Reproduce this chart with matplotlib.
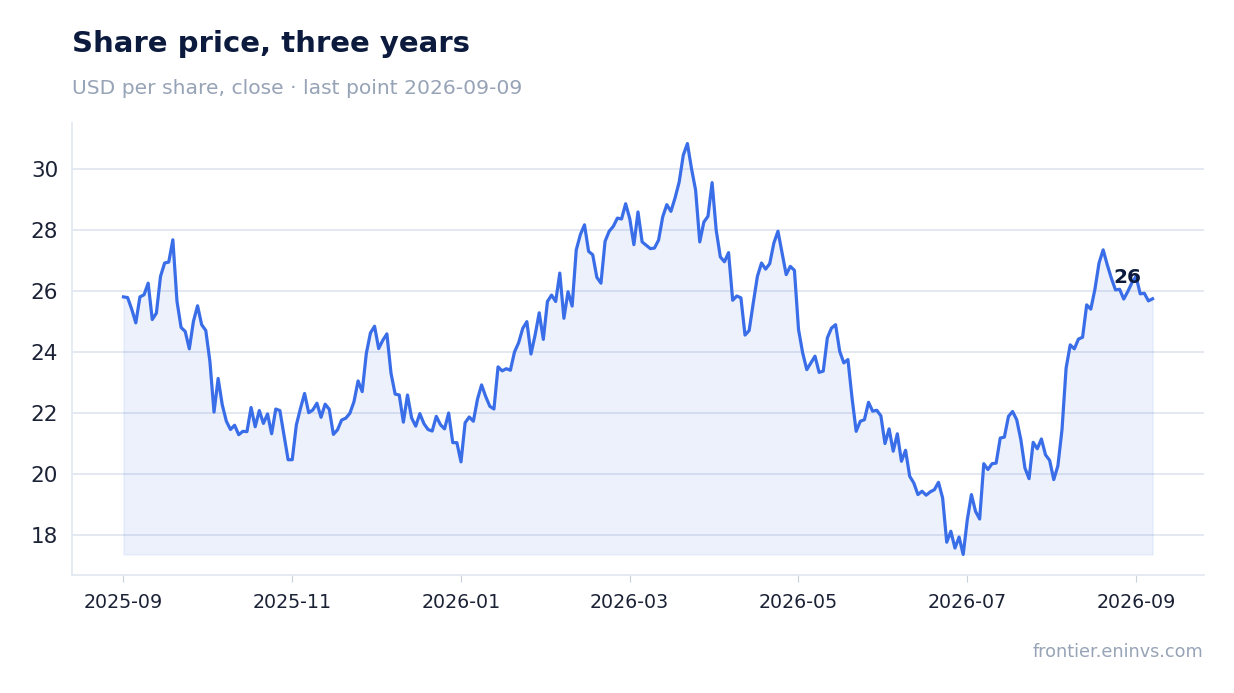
import pandas as pd
import matplotlib
matplotlib.use("Agg")
from matplotlib import pyplot as plt

# closing prices (first point 2025-09-01)
close = [
    25.80, 25.78, 25.40, 24.95, 25.80, 25.87, 26.25, 25.06, 25.27, 26.47,
    26.91, 26.94, 27.67, 25.66, 24.80, 24.67, 24.10, 25.00, 25.51, 24.89,
    24.70, 23.69, 22.03, 23.13, 22.27, 21.73, 21.46, 21.60, 21.29, 21.40,
    21.39, 22.18, 21.55, 22.08, 21.66, 21.97, 21.32, 22.13, 22.08, 21.28,
    20.47, 20.47, 21.61, 22.15, 22.64, 22.01, 22.10, 22.32, 21.86, 22.29,
    22.12, 21.30, 21.45, 21.77, 21.83, 21.99, 22.37, 23.05, 22.70, 23.95,
    24.62, 24.84, 24.11, 24.38, 24.59, 23.30, 22.62, 22.59, 21.70, 22.59,
    21.84, 21.57, 21.98, 21.65, 21.46, 21.41, 21.89, 21.62, 21.48, 22.00,
    21.03, 21.03, 20.40, 21.68, 21.87, 21.73, 22.45, 22.92, 22.54, 22.22,
    22.13, 23.51, 23.38, 23.45, 23.40, 24.00, 24.30, 24.77, 24.99, 23.93,
    24.55, 25.28, 24.41, 25.65, 25.86, 25.65, 26.58, 25.10, 25.97, 25.50,
    27.34, 27.84, 28.16, 27.29, 27.18, 26.44, 26.25, 27.62, 27.95, 28.11,
    28.38, 28.35, 28.85, 28.36, 27.51, 28.58, 27.60, 27.49, 27.38, 27.40,
    27.66, 28.42, 28.82, 28.60, 29.04, 29.56, 30.44, 30.82, 30.00, 29.29,
    27.60, 28.25, 28.44, 29.54, 27.98, 27.11, 26.95, 27.25, 25.69, 25.83,
    25.77, 24.55, 24.70, 25.60, 26.47, 26.91, 26.71, 26.89, 27.56, 27.95,
    27.24, 26.53, 26.80, 26.67, 24.73, 23.97, 23.42, 23.64, 23.86, 23.33,
    23.37, 24.46, 24.78, 24.89, 24.02, 23.64, 23.75, 22.49, 21.40, 21.73,
    21.78, 22.35, 22.06, 22.09, 21.91, 21.00, 21.48, 20.75, 21.32, 20.42,
    20.78, 19.93, 19.71, 19.33, 19.44, 19.31, 19.42, 19.49, 19.73, 19.22,
    17.77, 18.13, 17.58, 17.94, 17.37, 18.51, 19.33, 18.78, 18.53, 20.34,
    20.15, 20.34, 20.36, 21.18, 21.21, 21.89, 22.05, 21.78, 21.13, 20.20,
    19.85, 21.04, 20.83, 21.15, 20.63, 20.45, 19.82, 20.27, 21.45, 23.47,
    24.23, 24.10, 24.42, 24.48, 25.54, 25.40, 26.05, 26.91, 27.34, 26.85,
    26.41, 26.03, 26.05, 25.73, 25.98, 26.27, 26.47, 25.90, 25.92, 25.67,
    25.74,
]
dates = pd.date_range("2025-09-01", "2026-09-07", periods=len(close))

x_labels = ["2025-09", "2025-11", "2026-01", "2026-03", "2026-05", "2026-07", "2026-09"]
y_ticks = [18, 20, 22, 24, 26, 28, 30]

title = "Share price, three years"
subtitle = "USD per share, close \u00b7 last point 2026-09-09"
source = "frontier.eninvs.com"

line_col = "#3a6ee8"
navy = "#0b1a3d"
grey = "#97a3b6"

fig = plt.figure(figsize=(12.34, 6.93), dpi=100)
ax = fig.add_axes([72 / 1234, 1 - 575 / 693, (1204 - 72) / 1234, (575 - 123) / 693])

ax.fill_between(dates, close, min(close), color=line_col, alpha=0.09)
ax.plot(dates, close, color=line_col, linewidth=2.3)

# label for the last value
ax.annotate(f"{close[-1]:.0f}", xy=(dates[-1], close[-1]), xytext=(-25, 21),
            textcoords="offset pixels", ha="center", va="center",
            fontsize=14.5, fontweight="bold", color=navy)

# ticks sit evenly, one every sixth of a year
step = pd.Timedelta(days=365 / 6)
ax.set_xticks([dates[0] + k * step for k in range(len(x_labels))])
ax.set_xticklabels(x_labels)
ax.set_yticks(y_ticks)

ax.grid(axis="y", color="#e2e7f0", linewidth=1.3)
ax.set_axisbelow(True)
for side in ["top", "right"]:
    ax.spines[side].set_visible(False)
for side in ["left", "bottom"]:
    ax.spines[side].set_color("#e2e7f0")
    ax.spines[side].set_linewidth(1.2)
ax.tick_params(axis="y", length=0, labelsize=15.5, labelcolor="#1b2236", pad=10)
ax.tick_params(axis="x", length=5, color="#c9d0dc", labelsize=13.7, labelcolor="#1b2236", pad=8)

fig.text(72 / 1234, 1 - 44 / 693, title, fontsize=21, fontweight="bold",
         color=navy, va="center")
fig.text(72 / 1234, 1 - 88 / 693, subtitle, fontsize=14.6, color=grey, va="center")
fig.text(1203 / 1234, 1 - 652 / 693, source, fontsize=12.7, color=grey,
         ha="right", va="center")

fig.savefig("out.png", dpi=100)
